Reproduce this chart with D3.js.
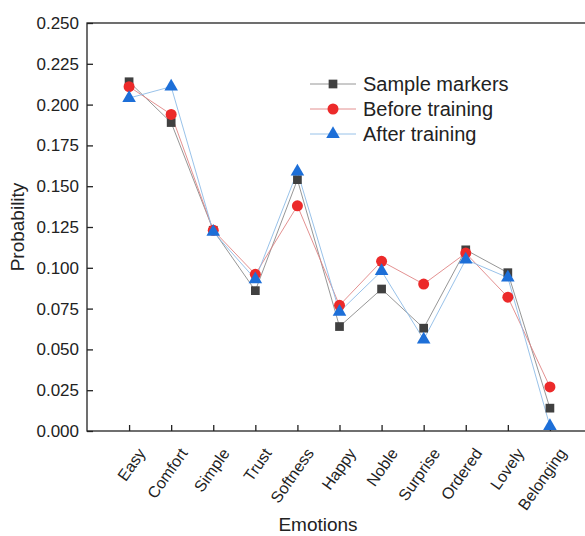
<!DOCTYPE html>
<html>
<head>
<meta charset="utf-8">
<script src="https://cdn.jsdelivr.net/npm/d3@7"></script>
<style>
  body { margin: 0; background: #fff; }
  svg text { font-family: "Liberation Sans", Arial, sans-serif; fill: #222; }
</style>
</head>
<body>
<div id="chart"></div>
<script>
let emotions = ['Easy', 'Comfort', 'Simple', 'Trust', 'Softness', 'Happy', 'Noble', 'Surprise', 'Ordered', 'Lovely', 'Belonging']
let sampleMarkers = [0.214, 0.189, 0.123, 0.086, 0.154, 0.064, 0.087, 0.063, 0.111, 0.097, 0.014]
let beforeTraining = [0.211, 0.194, 0.123, 0.096, 0.138, 0.077, 0.104, 0.090, 0.109, 0.082, 0.027]
let afterTraining = [0.204, 0.211, 0.122, 0.093, 0.159, 0.073, 0.098, 0.056, 0.105, 0.094, 0.003]
let yTicks = [0, 0.025, 0.05, 0.075, 0.1, 0.125, 0.15, 0.175, 0.2, 0.225, 0.25]

var width = 585
var height = 536
var margin = { left: 87, top: 23, bottom: 431, right: 592 }

var x = d3.scaleLinear().domain([0, 12]).range([margin.left, margin.right])
var y = d3.scaleLinear().domain([0, 0.25]).range([margin.bottom, margin.top])

var svg = d3.select('#chart').append('svg')
  .attr('width', width)
  .attr('height', height)

// frame
svg.append('rect')
  .attr('x', margin.left).attr('y', margin.top)
  .attr('width', margin.right - margin.left).attr('height', margin.bottom - margin.top)
  .attr('fill', 'none').attr('stroke', '#222').attr('stroke-width', 1.3)

// y axis, ticks inside
var yAxis = d3.axisLeft(y)
  .tickValues(yTicks)
  .tickSize(-6)
  .tickPadding(8)
  .tickFormat(d3.format('.3f'))

svg.append('g')
  .attr('transform', 'translate(' + margin.left + ',0)')
  .call(yAxis)
  .call(g => g.select('.domain').remove())
  .call(g => g.selectAll('line').attr('stroke', '#222').attr('stroke-width', 1.3))
  .call(g => g.selectAll('text').style('font-size', '17px').attr('fill', '#222'))

// x axis, ticks inside
var xAxis = d3.axisBottom(x)
  .tickValues(d3.range(1, 12))
  .tickSize(-6)
  .tickFormat(i => emotions[i - 1])

svg.append('g')
  .attr('transform', 'translate(0,' + margin.bottom + ')')
  .call(xAxis)
  .call(g => g.select('.domain').remove())
  .call(g => g.selectAll('line').attr('stroke', '#222').attr('stroke-width', 1.3))
  .call(g => g.selectAll('text')
    .style('font-size', '16px')
    .attr('fill', '#222')
    .attr('text-anchor', 'end')
    .attr('dy', '0.35em')
    .attr('transform', 'translate(12,19) rotate(-55)')
    .attr('y', 0).attr('x', 0))

// axis titles
svg.append('text')
  .attr('x', 318)
  .attr('y', 531)
  .attr('text-anchor', 'middle')
  .style('font-size', '19px')
  .text('Emotions')

svg.append('text')
  .attr('transform', 'translate(24,' + (margin.top + margin.bottom) / 2 + ') rotate(-90)')
  .attr('text-anchor', 'middle')
  .style('font-size', '19px')
  .text('Probability')

var series = [
  { name: 'Sample markers', values: sampleMarkers, line: '#8a8a8a', fill: '#404040', shape: d3.symbolSquare, size: 76 },
  { name: 'Before training', values: beforeTraining, line: '#e08585', fill: '#ec2a2a', shape: d3.symbolCircle, size: 95 },
  { name: 'After training', values: afterTraining, line: '#8dbbe6', fill: '#1d6fd8', shape: d3.symbolTriangle, size: 80 }
]

var line = d3.line()
  .x((d, i) => x(i + 1))
  .y(d => y(d))

series.forEach(s => {
  svg.append('path')
    .datum(s.values)
    .attr('d', line)
    .attr('fill', 'none')
    .attr('stroke', s.line)
    .attr('stroke-width', 0.9)
})

series.forEach(s => {
  svg.selectAll(null)
    .data(s.values)
    .enter().append('path')
    .attr('d', d3.symbol().type(s.shape).size(s.size))
    .attr('transform', (d, i) => 'translate(' + x(i + 1) + ',' + y(d) + ')')
    .attr('fill', s.fill)
})

// legend
var legend = svg.append('g').attr('transform', 'translate(310,84)')
series.forEach((s, i) => {
  var g = legend.append('g').attr('transform', 'translate(0,' + i * 25 + ')')
  g.append('line').attr('x1', 0).attr('x2', 46).attr('y1', 0).attr('y2', 0)
    .attr('stroke', s.line).attr('stroke-width', 0.9)
  g.append('path').attr('d', d3.symbol().type(s.shape).size(s.size))
    .attr('transform', 'translate(23,0)').attr('fill', s.fill)
  g.append('text').attr('x', 53).attr('y', 0).attr('dy', '0.35em')
    .style('font-size', '20px').text(s.name)
})
</script>
</body>
</html>
